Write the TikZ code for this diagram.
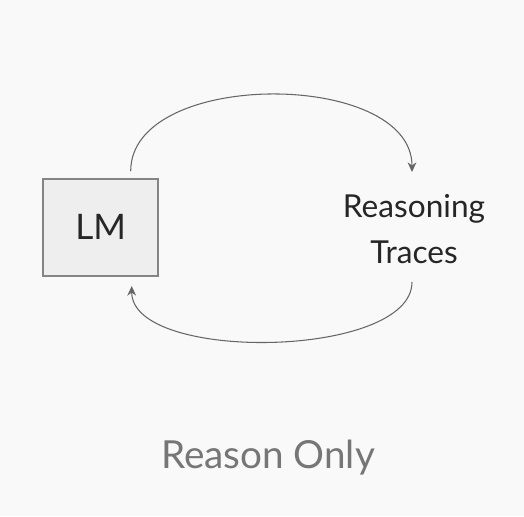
\documentclass[tikz,border=0pt]{standalone}
\usepackage{fontspec}
\setmainfont{Lato}
\usetikzlibrary{arrows.meta}
\definecolor{bgcol}{HTML}{F9F9F9}
\definecolor{boxfill}{HTML}{EEEEEE}
\definecolor{boxline}{HTML}{858585}
\definecolor{arrowcol}{HTML}{666666}
\definecolor{captioncol}{HTML}{767676}
\tikzset{
    lmbox/.style={draw=boxline, thick, fill=boxfill, minimum width=2.3cm, minimum height=1.94cm, font=\fontsize{20}{24}\selectfont, text=black!85},
    loop arrow/.style={draw=arrowcol, semithick, -{Stealth[length=5.5pt, width=5pt]}}
}
\begin{document}
\begin{tikzpicture}
    % background and page size
    \fill[bgcol] (0,0) rectangle (10.48,10.32);

    % LEFT: language model
    \node[lmbox] (lm) at (2.014,5.774) {LM};

    % RIGHT: reasoning traces
    \node[align=center, font=\fontsize{18}{26}\selectfont, text=black!85] (traces) at (8.28,5.74) {Reasoning\\Traces};

    % Loop between both
    \draw[loop arrow] ([xshift=0.6cm, yshift=0.14cm]lm.north) to[out=90, in=90, looseness=0.93] ([xshift=-0.04cm, yshift=1.14cm]traces.center);
    \draw[loop arrow] ([xshift=-0.04cm, yshift=-1.06cm]traces.center) to[out=-90, in=-90, looseness=0.7] ([xshift=0.62cm, yshift=-0.19cm]lm.south);

    % Caption
    \node[anchor=base, font=\fontsize{22}{26}\selectfont, text=captioncol] (caption) at (5.36,0.96) {Reason Only};
\end{tikzpicture}
\end{document}
